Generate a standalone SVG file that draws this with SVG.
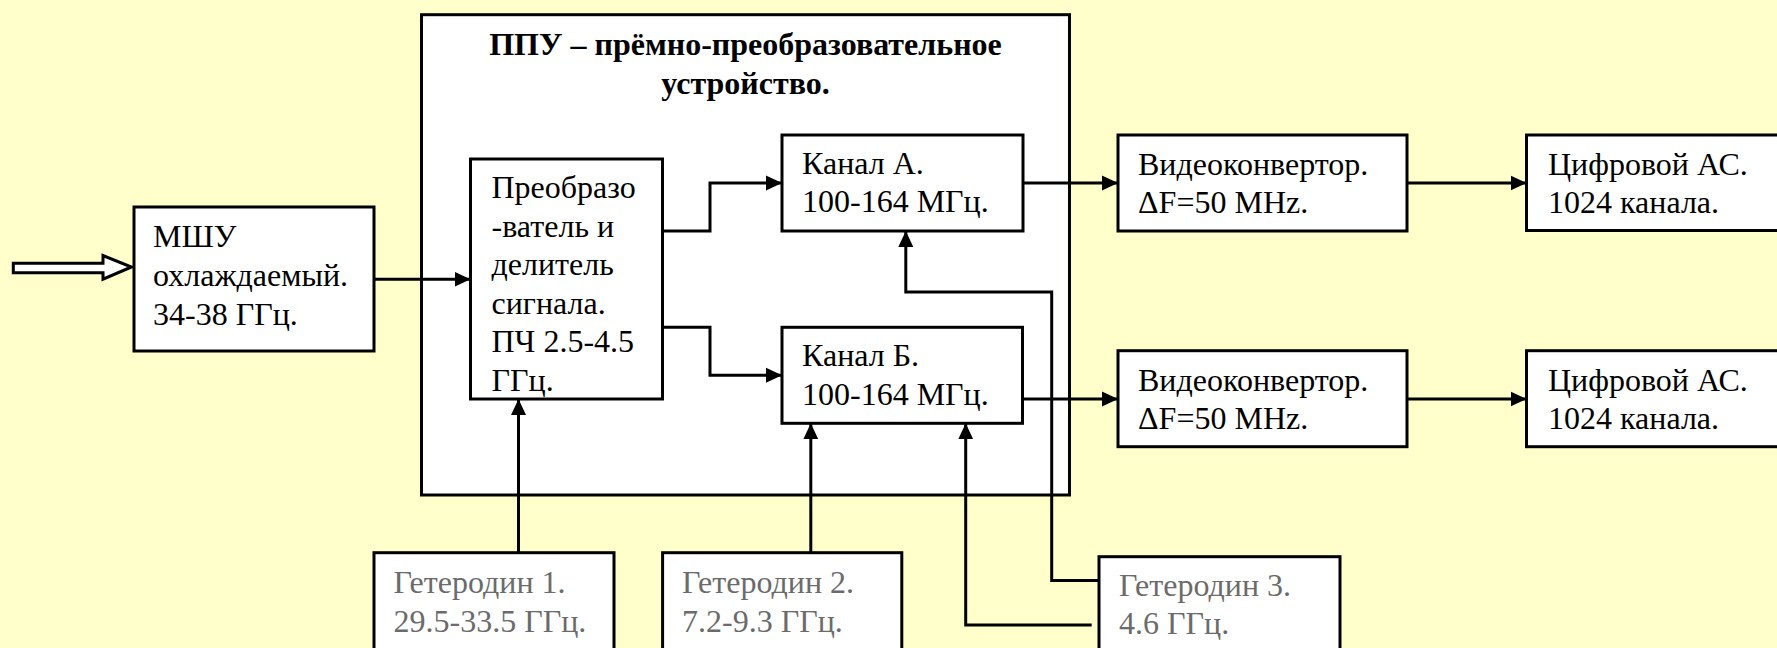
<svg xmlns="http://www.w3.org/2000/svg" width="1777" height="648" viewBox="0 0 1777 648" font-family="'Liberation Serif', 'Times New Roman', 'DejaVu Serif', serif">
  <defs>
    <style>
      .box { fill: #ffffff; stroke: #000000; stroke-width: 3; }
      text { font-family: 'Liberation Serif', 'Times New Roman', 'DejaVu Serif', serif; font-size: 32px; fill: #000000; }
      .g { fill: #6b6b6b; }
      .title { font-weight: bold; text-anchor: middle; }
      .c { fill: none; stroke: #000000; stroke-width: 3; marker-end: url(#ah); }
    </style>
    <marker id="ah" markerUnits="userSpaceOnUse" markerWidth="17" markerHeight="16" refX="16" refY="8" orient="auto">
      <path d="M0,0.5 L16,8 L0,15.5 Z" fill="#000000"/>
    </marker>
  </defs>
  <rect x="0" y="0" width="1777" height="648" fill="#ffffcc"/>

  <g id="ppu">
    <rect class="box" x="421.5" y="14.7" width="648" height="480.3"/>
    <text class="title" x="745.5" y="55" font-family="Liberation Serif, serif">ППУ – прёмно-преобразовательное</text>
    <text class="title" x="745.5" y="93.5" font-family="Liberation Serif, serif">устройство.</text>
  </g>

  <g id="connectors">
    <path d="M13.3,263.2 H103 V255.5 L131.5,267 L103,279.2 V272.8 H13.3 Z" fill="#ffffff" stroke="#000000" stroke-width="3"/>
    <path class="c" d="M374,279.3 H470.5"/>
    <path class="c" d="M662.5,231 H710 V183 H782"/>
    <path class="c" d="M662.5,327.3 H710 V375.3 H782"/>
    <path class="c" d="M1022.8,183 H1118"/>
    <path class="c" d="M1407,183 H1526.5"/>
    <path class="c" d="M1022.5,399 H1118"/>
    <path class="c" d="M1407,399 H1526.5"/>
    <path class="c" d="M518.5,552.7 V399"/>
    <path class="c" d="M810.8,552.7 V423.3"/>
    <path class="c" d="M1099,580.5 H1051.7 V292 H905.8 V231"/>
    <path class="c" d="M1091.7,625 H965.7 V423.3"/>
  </g>

  <g id="mshu" font-family="Liberation Serif, serif">
    <rect class="box" x="134" y="207" width="240" height="144"/>
    <text x="153" y="246.7">МШУ</text>
    <text x="153" y="286">охлаждаемый.</text>
    <text x="153" y="324.5">34-38 ГГц.</text>
  </g>

  <g id="converter">
    <rect class="box" x="470.5" y="159" width="192" height="240"/>
    <text x="491.5" y="198.3">Преобразо</text>
    <text x="491.5" y="236.8">-ватель и</text>
    <text x="491.5" y="275.3">делитель</text>
    <text x="491.5" y="313.8">сигнала.</text>
    <text x="491.5" y="352.3">ПЧ 2.5-4.5</text>
    <text x="491.5" y="390.8">ГГц.</text>
  </g>

  <g id="kanal-a">
    <rect class="box" x="782" y="135" width="241" height="96"/>
    <text x="802" y="174">Канал А.</text>
    <text x="802" y="212">100-164 МГц.</text>
  </g>

  <g id="kanal-b">
    <rect class="box" x="782" y="327.3" width="240.5" height="96"/>
    <text x="802" y="366">Канал Б.</text>
    <text x="802" y="405">100-164 МГц.</text>
  </g>

  <g id="video-1">
    <rect class="box" x="1118" y="135" width="289" height="96"/>
    <text x="1138" y="175">Видеоконвертор.</text>
    <text x="1138" y="213">ΔF=50 MHz.</text>
  </g>

  <g id="video-2">
    <rect class="box" x="1118" y="350.7" width="289" height="96"/>
    <text x="1138" y="390.7">Видеоконвертор.</text>
    <text x="1138" y="429.3">ΔF=50 MHz.</text>
  </g>

  <g id="digital-1">
    <rect class="box" x="1526.5" y="135" width="300" height="95.5"/>
    <text x="1548" y="175">Цифровой АС.</text>
    <text x="1548" y="212.7">1024 канала.</text>
  </g>

  <g id="digital-2">
    <rect class="box" x="1526.5" y="350.7" width="300" height="96"/>
    <text x="1548" y="390.7">Цифровой АС.</text>
    <text x="1548" y="429">1024 канала.</text>
  </g>

  <g id="heterodyne-1">
    <rect class="box" x="374" y="552.7" width="240" height="120"/>
    <text class="g" x="393.5" y="593.3">Гетеродин 1.</text>
    <text class="g" x="393.5" y="631.7">29.5-33.5 ГГц.</text>
  </g>

  <g id="heterodyne-2">
    <rect class="box" x="662.6" y="552.7" width="239.2" height="120"/>
    <text class="g" x="682" y="593.3">Гетеродин 2.</text>
    <text class="g" x="682" y="631.7">7.2-9.3 ГГц.</text>
  </g>

  <g id="heterodyne-3">
    <rect class="box" x="1099" y="556.7" width="241" height="120"/>
    <text class="g" x="1119" y="596.3">Гетеродин 3.</text>
    <text class="g" x="1119" y="634.3">4.6 ГГц.</text>
  </g>
</svg>
